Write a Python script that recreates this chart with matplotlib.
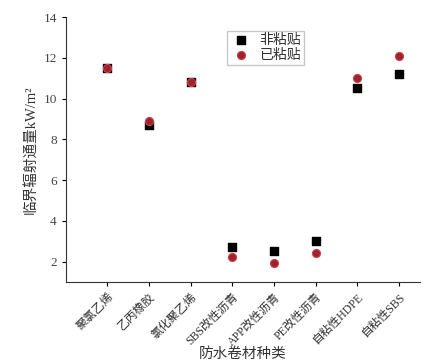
import matplotlib
matplotlib.use("Agg")
import matplotlib.pyplot as plt

plt.rcParams['font.family'] = ['Liberation Serif', 'Noto Sans CJK SC', 'DejaVu Sans']

# 防水卷材种类
categories = ['聚氯乙烯', '乙丙橡胶', '氯化聚乙烯', 'SBS改性沥青', 'APP改性沥青',
              'PE改性沥青', '自粘性HDPE', '自粘性SBS']
# 临界辐射通量 kW/m2
non_bonded = [11.5, 8.7, 10.8, 2.73, 2.53, 3.02, 10.5, 11.2]
bonded = [11.5, 8.9, 10.8, 2.25, 1.93, 2.42, 11.0, 12.1]
yticks = [2, 4, 6, 8, 10, 12, 14]

fig = plt.figure(figsize=(4.48, 3.62), dpi=100)
ax = fig.add_axes([0.147, 0.221, 0.79, 0.732])

x = list(range(len(categories)))
ax.scatter(x, non_bonded, marker='s', s=26, color='black', label='非粘贴', zorder=3)
ax.scatter(x, bonded, marker='o', s=34, color='#a0222e', edgecolors='#c8464e',
           linewidths=0.8, label='已粘贴', zorder=4)

ax.set_xlim(-1, 7.5)
ax.set_ylim(1, 14)
ax.set_yticks(yticks)
ax.set_xticks(x)
ax.set_xticklabels(categories, rotation=45, ha='right', rotation_mode='anchor',
                   fontsize=8.5, color='#333333')
ax.tick_params(axis='y', labelsize=9.5, labelcolor='#444444', direction='out', length=3)
ax.tick_params(axis='x', direction='out', length=3)

for side in ['top', 'right']:
    ax.spines[side].set_visible(False)
for side in ['left', 'bottom']:
    ax.spines[side].set_color('#333333')

ax.set_ylabel('临界辐射通量kW/m²', fontsize=10.5, color='#333333')
ax.set_xlabel('防水卷材种类', fontsize=10.5, color='#333333')
ax.xaxis.set_label_coords(0.5, -0.245)
ax.yaxis.set_label_coords(-0.08, 0.5)

leg = ax.legend(loc='upper left', bbox_to_anchor=(0.435, 0.975), fontsize=10,
                frameon=True, fancybox=False, edgecolor='#bbbbbb',
                handletextpad=0.5, borderpad=0.25, labelspacing=0.1,
                handlelength=1.6)
for t in leg.get_texts():
    t.set_color('#333333')

fig.savefig('out.png', dpi=100)
